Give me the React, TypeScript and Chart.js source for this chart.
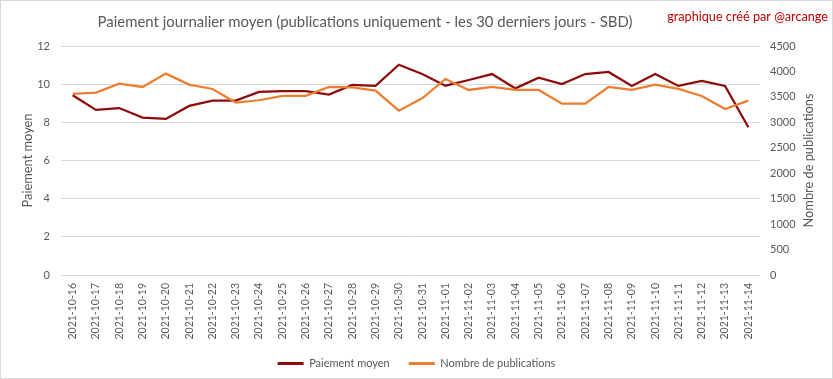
import React, { useEffect, useRef } from "react";
import { Chart, registerables } from "chart.js";

Chart.register(...registerables);

const TITLE = "Paiement journalier moyen (publications uniquement - les 30 derniers jours - SBD)";
const CREDIT = "graphique créé par @arcange";
const LEFT_TITLE = "Paiement moyen";
const RIGHT_TITLE = "Nombre de publications";

const dates = [
  "2021-10-16", "2021-10-17", "2021-10-18", "2021-10-19", "2021-10-20", "2021-10-21",
  "2021-10-22", "2021-10-23", "2021-10-24", "2021-10-25", "2021-10-26", "2021-10-27",
  "2021-10-28", "2021-10-29", "2021-10-30", "2021-10-31", "2021-11-01", "2021-11-02",
  "2021-11-03", "2021-11-04", "2021-11-05", "2021-11-06", "2021-11-07", "2021-11-08",
  "2021-11-09", "2021-11-10", "2021-11-11", "2021-11-12", "2021-11-13", "2021-11-14",
];

const paiementMoyen = [
  9.42, 8.65, 8.75, 8.25, 8.18, 8.86, 9.14, 9.14, 9.59, 9.64, 9.64, 9.45, 9.96, 9.91, 11.02,
  10.53, 9.92, 10.22, 10.53, 9.78, 10.34, 10.01, 10.53, 10.64, 9.91, 10.53, 9.91, 10.17, 9.91, 7.74,
];

const nombrePublications = [
  3558, 3584, 3761, 3695, 3957, 3741, 3656, 3388, 3434, 3519, 3519, 3695, 3689, 3623, 3230,
  3473, 3852, 3636, 3695, 3636, 3636, 3368, 3368, 3695, 3636, 3741, 3656, 3519, 3263, 3427,
];

const leftAxis = { min: 0, max: 12, step: 2 };
const rightAxis = { min: 0, max: 4500, step: 500 };

const FONT = "Lato";
const GREY = "#595959";
const DARK_RED = "#8E0B0B";
const ORANGE = "#ED7D31";

function fitFont(ctx: CanvasRenderingContext2D, text: string, target: number, base: number) {
  ctx.font = `${base}px ${FONT}`;
  const w = ctx.measureText(text).width;
  const size = (base * target) / w;
  return `${size}px ${FONT}`;
}

const decorPlugin = {
  id: "decor",
  beforeDraw(chart: any) {
    const { ctx, width, height } = chart;
    ctx.save();
    ctx.fillStyle = "#ffffff";
    ctx.fillRect(0, 0, width, height);
    ctx.strokeStyle = "#d9d9d9";
    ctx.lineWidth = 1;
    ctx.strokeRect(0.5, 0.5, width - 1, height - 1);
    ctx.restore();
  },
  afterDraw(chart: any) {
    const { ctx, chartArea } = chart;
    const midY = (chartArea.top + chartArea.bottom) / 2;
    ctx.save();
    ctx.textBaseline = "middle";

    ctx.fillStyle = GREY;
    ctx.textAlign = "center";
    ctx.font = fitFont(ctx, TITLE, 535, 15);
    ctx.fillText(TITLE, 365, 22);

    ctx.fillStyle = "#C00000";
    ctx.textAlign = "right";
    ctx.font = fitFont(ctx, CREDIT, 161, 12);
    ctx.fillText(CREDIT, 828, 17);

    ctx.fillStyle = GREY;
    ctx.textAlign = "center";
    ctx.save();
    ctx.translate(chartArea.left - 33, midY);
    ctx.rotate(-Math.PI / 2);
    ctx.font = fitFont(ctx, LEFT_TITLE, 94, 12);
    ctx.fillText(LEFT_TITLE, 0, 0);
    ctx.restore();

    ctx.save();
    ctx.translate(chartArea.right + 49, midY);
    ctx.rotate(-Math.PI / 2);
    ctx.font = fitFont(ctx, RIGHT_TITLE, 134, 12);
    ctx.fillText(RIGHT_TITLE, 0, 0);
    ctx.restore();

    ctx.restore();
  },
};

export default function App() {
  const canvasRef = useRef<HTMLCanvasElement | null>(null);

  useEffect(() => {
    if (!canvasRef.current) return;
    const chart = new Chart(canvasRef.current, {
      type: "line",
      data: {
        labels: dates,
        datasets: [
          {
            label: "Paiement moyen",
            data: paiementMoyen,
            borderColor: DARK_RED,
            backgroundColor: DARK_RED,
            borderWidth: 2.25,
            pointRadius: 0,
            tension: 0,
            yAxisID: "y",
            order: 1,
          },
          {
            label: "Nombre de publications",
            data: nombrePublications,
            borderColor: ORANGE,
            backgroundColor: ORANGE,
            borderWidth: 2.25,
            pointRadius: 0,
            tension: 0,
            yAxisID: "y1",
            order: 0,
          },
        ],
      },
      options: {
        animation: false,
        responsive: false,
        maintainAspectRatio: false,
        layout: { padding: { top: 46, left: 0, right: 0, bottom: 0 } },
        scales: {
          x: {
            offset: true,
            grid: { display: false, drawTicks: false },
            border: { display: false },
            ticks: {
              autoSkip: false,
              minRotation: 90,
              maxRotation: 90,
              padding: 8,
              color: GREY,
              font: { family: FONT, size: 10.5 },
            },
            afterFit: (s: any) => {
              s.height = 64;
            },
          },
          y: {
            position: "left",
            min: leftAxis.min,
            max: leftAxis.max,
            grid: { color: "#d9d9d9", lineWidth: 1, drawTicks: false },
            border: { display: false },
            ticks: {
              stepSize: leftAxis.step,
              padding: 11,
              color: GREY,
              font: { family: FONT, size: 11 },
              callback: (v: any) => String(v),
            },
            afterFit: (s: any) => {
              s.width = 61;
            },
          },
          y1: {
            position: "right",
            min: rightAxis.min,
            max: rightAxis.max,
            grid: { display: false, drawTicks: false },
            border: { display: false },
            ticks: {
              stepSize: rightAxis.step,
              padding: 10,
              color: GREY,
              font: { family: FONT, size: 11 },
              callback: (v: any) => String(v),
            },
            afterFit: (s: any) => {
              s.width = 73;
            },
          },
        },
        plugins: {
          title: { display: false },
          tooltip: { enabled: false },
          legend: {
            display: true,
            position: "bottom",
            labels: {
              boxWidth: 26,
              boxHeight: 3,
              padding: 19,
              color: GREY,
              font: { family: FONT, size: 11 },
              generateLabels: (c: any) =>
                Chart.defaults.plugins.legend.labels
                  .generateLabels(c)
                  .sort((a: any, b: any) => a.datasetIndex - b.datasetIndex)
                  .map((l: any) => ({ ...l, lineWidth: 0 })),
            },
          },
        },
      },
      plugins: [decorPlugin],
    });
    return () => chart.destroy();
  }, []);

  return (
    <div style={{ position: "absolute", left: 0, top: 0, width: 833, height: 379 }}>
      <canvas ref={canvasRef} width={833} height={379} style={{ display: "block" }} />
    </div>
  );
}
